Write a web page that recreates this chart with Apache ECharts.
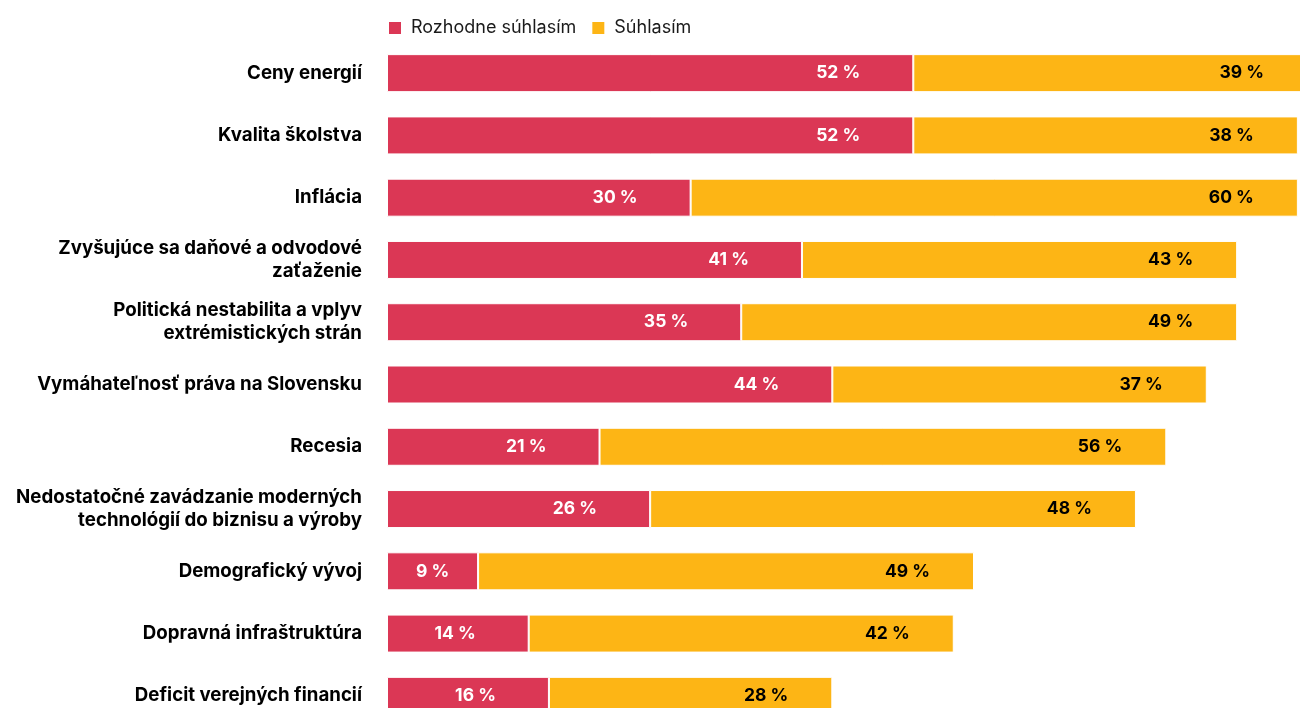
<!DOCTYPE html>
<html><head><meta charset="utf-8">
<script src="https://cdn.jsdelivr.net/npm/echarts@6/dist/echarts.min.js"></script>
<style>html,body{margin:0;padding:0;background:#fff}#c{width:1300px;height:708px}</style>
</head><body><div id="c"></div>
<script>
const categories = [
  "Ceny energií",
  "Kvalita školstva",
  "Inflácia",
  "Zvyšujúce sa daňové a odvodové\nzaťaženie",
  "Politická nestabilita a vplyv\nextrémistických strán",
  "Vymáhateľnosť práva na Slovensku",
  "Recesia",
  "Nedostatočné zavádzanie moderných\ntechnológií do biznisu a výroby",
  "Demografický vývoj",
  "Dopravná infraštruktúra",
  "Deficit verejných financií"
];
const stronglyAgree = [52, 52, 30, 41, 35, 44, 21, 26, 9, 14, 16];
const agree = [39, 38, 60, 43, 49, 37, 56, 48, 49, 42, 28];
const seriesNames = ["Rozhodne súhlasím", "Súhlasím"];

const FONT = "Inter";
function toData(arr) {
  return arr.map(v => v < 10 ? { value: v, label: { position: 'inside' } } : v);
}
const chart = echarts.init(document.getElementById('c'), null, { renderer: 'canvas' });
chart.setOption({
  animation: false,
  textStyle: { fontFamily: FONT },
  legend: {
    left: 382, top: 14,
    itemWidth: 14, itemHeight: 14, itemGap: 14,
    icon: 'rect',
    textStyle: { fontFamily: FONT, fontSize: 18, color: '#1a1a1a', padding: [0, 0, 0, 4] },
    data: seriesNames
  },
  grid: { left: 387, top: 42, width: 921, height: 685, containLabel: false, outerBoundsMode: 'none' },
  xAxis: { type: 'value', min: 0, max: 91, show: false },
  yAxis: {
    type: 'category', data: categories, inverse: true,
    axisLine: { show: false }, axisTick: { show: false }, splitLine: { show: false },
    axisLabel: { margin: 25, fontFamily: FONT, fontSize: 18.7, fontWeight: 'bold', color: '#000', lineHeight: 23, align: 'right' }
  },
  series: [
    {
      name: seriesNames[0], type: 'bar', stack: 's', barWidth: 38,
      data: toData(stronglyAgree),
      itemStyle: { color: '#DB3755', borderColor: '#fff', borderWidth: 1 },
      label: { show: true, position: 'insideRight', distance: 53, formatter: '{c} %', color: '#fff', fontFamily: FONT, fontWeight: 'bold', fontSize: 17.5 }
    },
    {
      name: seriesNames[1], type: 'bar', stack: 's', barWidth: 38,
      data: toData(agree),
      itemStyle: { color: '#FDB515', borderColor: '#fff', borderWidth: 1 },
      label: { show: true, position: 'insideRight', distance: 44, formatter: '{c} %', color: '#000', fontFamily: FONT, fontWeight: 'bold', fontSize: 17.5 }
    }
  ]
});
</script></body></html>
